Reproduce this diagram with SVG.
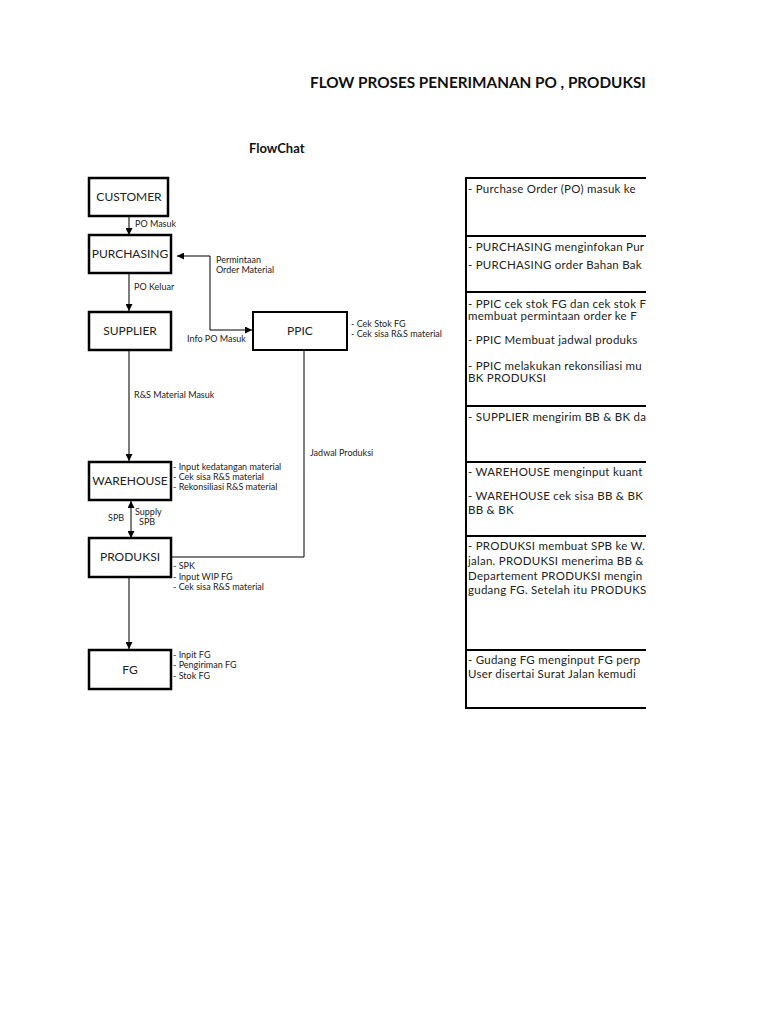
<svg xmlns="http://www.w3.org/2000/svg" width="768" height="1024" viewBox="0 0 768 1024">
<style>
.box{fill:#fff;stroke:#000;stroke-width:2.5}
.lbl{font-family:Lato,"Open Sans","Liberation Sans",sans-serif;font-size:12px;fill:#222;text-anchor:middle}
.sm{font-family:Lato,"Open Sans","Liberation Sans",sans-serif;font-size:9px;fill:#222}
.cell{font-family:Lato,"Open Sans","Liberation Sans",sans-serif;font-size:11.5px;letter-spacing:0.25px;fill:#222}
.ln{fill:none;stroke:#444;stroke-width:1.4}
.tb{stroke:#000;stroke-width:2;fill:none}
</style>
<defs>
<marker id="ah" viewBox="0 0 10 10" refX="10" refY="5" markerWidth="7" markerHeight="7" markerUnits="userSpaceOnUse" orient="auto-start-reverse">
<path d="M0,0 L10,5 L0,10 z" fill="#000"/>
</marker>
<clipPath id="clip"><rect x="440" y="160" width="206" height="560"/></clipPath>
</defs>
<rect width="768" height="1024" fill="#fff"/>
<text x="310" y="88" font-family="Lato,'Open Sans','Liberation Sans',sans-serif" font-size="15.3" font-weight="bold" fill="#111">FLOW PROSES PENERIMANAN PO , PRODUKSI</text>
<text x="249" y="153" font-family="Lato,'Open Sans','Liberation Sans',sans-serif" font-size="13" font-weight="bold" fill="#111">FlowChat</text>

<g id="connectors">
<line class="ln" x1="129" y1="217" x2="129" y2="235" marker-end="url(#ah)"/>
<line class="ln" x1="129" y1="274" x2="129" y2="311" marker-end="url(#ah)"/>
<line class="ln" x1="129" y1="351" x2="129" y2="461" marker-end="url(#ah)"/>
<polyline class="ln" points="177,256 210,256 210,330 252,330" marker-start="url(#ah)" marker-end="url(#ah)" style="stroke:#000;stroke-width:1"/>
<polyline class="ln" points="304,351 304,557 172,557" style="stroke:#000;stroke-width:1"/>
<line class="ln" x1="131" y1="501" x2="131" y2="538" marker-start="url(#ah)" marker-end="url(#ah)" style="stroke:#000;stroke-width:1"/>
<line class="ln" x1="129" y1="578" x2="129" y2="649" marker-end="url(#ah)"/>
<text class="sm" x="135" y="227">PO Masuk</text>
<text class="sm" x="134" y="290">PO Keluar</text>
<text class="sm" x="134" y="398">R&amp;S Material Masuk</text>
<text class="sm" x="216" y="263">Permintaan</text>
<text class="sm" x="216" y="273">Order Material</text>
<text class="sm" x="187" y="342">Info PO Masuk</text>
<text class="sm" x="310" y="456">Jadwal Produksi</text>
<text class="sm" x="108" y="521">SPB</text>
<text class="sm" x="135" y="515">Supply</text>
<text class="sm" x="139" y="525">SPB</text>
</g>

<g id="customer"><rect class="box" x="89" y="178" width="79" height="38"/><text class="lbl" x="129" y="201">CUSTOMER</text></g>
<g id="purchasing"><rect class="box" x="89" y="235" width="82" height="38"/><text class="lbl" x="130" y="258">PURCHASING</text></g>
<g id="supplier"><rect class="box" x="89" y="312" width="82" height="38"/><text class="lbl" x="130" y="335">SUPPLIER</text></g>
<g id="ppic"><rect class="box" x="253" y="312" width="94" height="38" style="stroke-width:2"/><text class="lbl" x="300" y="335">PPIC</text>
<text class="sm" x="351" y="327">- Cek Stok FG</text><text class="sm" x="351" y="337">- Cek sisa R&amp;S material</text></g>
<g id="warehouse"><rect class="box" x="89" y="462" width="82" height="38"/><text class="lbl" x="130" y="485">WAREHOUSE</text>
<text class="sm" x="173" y="470">- Input kedatangan material</text><text class="sm" x="173" y="480">- Cek sisa R&amp;S material</text><text class="sm" x="173" y="490">- Rekonsiliasi R&amp;S material</text></g>
<g id="produksi"><rect class="box" x="89" y="538" width="82" height="39"/><text class="lbl" x="130" y="561">PRODUKSI</text>
<text class="sm" x="173" y="569">- SPK</text><text class="sm" x="173" y="580">- Input WIP FG</text><text class="sm" x="173" y="590">- Cek sisa R&amp;S material</text></g>
<g id="fg"><rect class="box" x="89" y="650" width="82" height="39"/><text class="lbl" x="130" y="674">FG</text>
<text class="sm" x="173" y="658">- Inpit FG</text><text class="sm" x="173" y="668">- Pengiriman FG</text><text class="sm" x="173" y="679">- Stok FG</text></g>

<g id="table">
<line class="tb" x1="466" y1="177" x2="466" y2="709"/>
<line class="tb" x1="465" y1="178" x2="646" y2="178"/>
<line class="tb" x1="465" y1="236" x2="646" y2="236"/>
<line class="tb" x1="465" y1="292" x2="646" y2="292"/>
<line class="tb" x1="465" y1="406" x2="646" y2="406"/>
<line class="tb" x1="465" y1="462" x2="646" y2="462"/>
<line class="tb" x1="465" y1="536" x2="646" y2="536"/>
<line class="tb" x1="465" y1="650" x2="646" y2="650"/>
<line class="tb" x1="465" y1="708" x2="646" y2="708"/>
<g clip-path="url(#clip)">
<text class="cell" x="468" y="193">- Purchase Order (PO) masuk ke</text>
<text class="cell" x="468" y="251">- PURCHASING menginfokan Pur</text>
<text class="cell" x="468" y="269">- PURCHASING order Bahan Bak</text>
<text class="cell" x="468" y="308">- PPIC cek stok FG dan cek stok F</text>
<text class="cell" x="468" y="320">membuat permintaan order ke F</text>
<text class="cell" x="468" y="344">- PPIC Membuat jadwal produks</text>
<text class="cell" x="468" y="370">- PPIC melakukan rekonsiliasi mu</text>
<text class="cell" x="468" y="382">BK PRODUKSI</text>
<text class="cell" x="468" y="421">- SUPPLIER mengirim BB &amp; BK da</text>
<text class="cell" x="468" y="476">- WAREHOUSE menginput kuant</text>
<text class="cell" x="468" y="500">- WAREHOUSE cek sisa BB &amp; BK</text>
<text class="cell" x="468" y="514">BB &amp; BK</text>
<text class="cell" x="468" y="550">- PRODUKSI membuat SPB ke W.</text>
<text class="cell" x="468" y="565">jalan. PRODUKSI menerima BB &amp;</text>
<text class="cell" x="468" y="580">Departement PRODUKSI mengin</text>
<text class="cell" x="468" y="594">gudang FG. Setelah itu PRODUKS</text>
<text class="cell" x="468" y="664">- Gudang FG menginput FG perp</text>
<text class="cell" x="468" y="678">User disertai Surat Jalan kemudi</text>
</g>
</g>
</svg>
